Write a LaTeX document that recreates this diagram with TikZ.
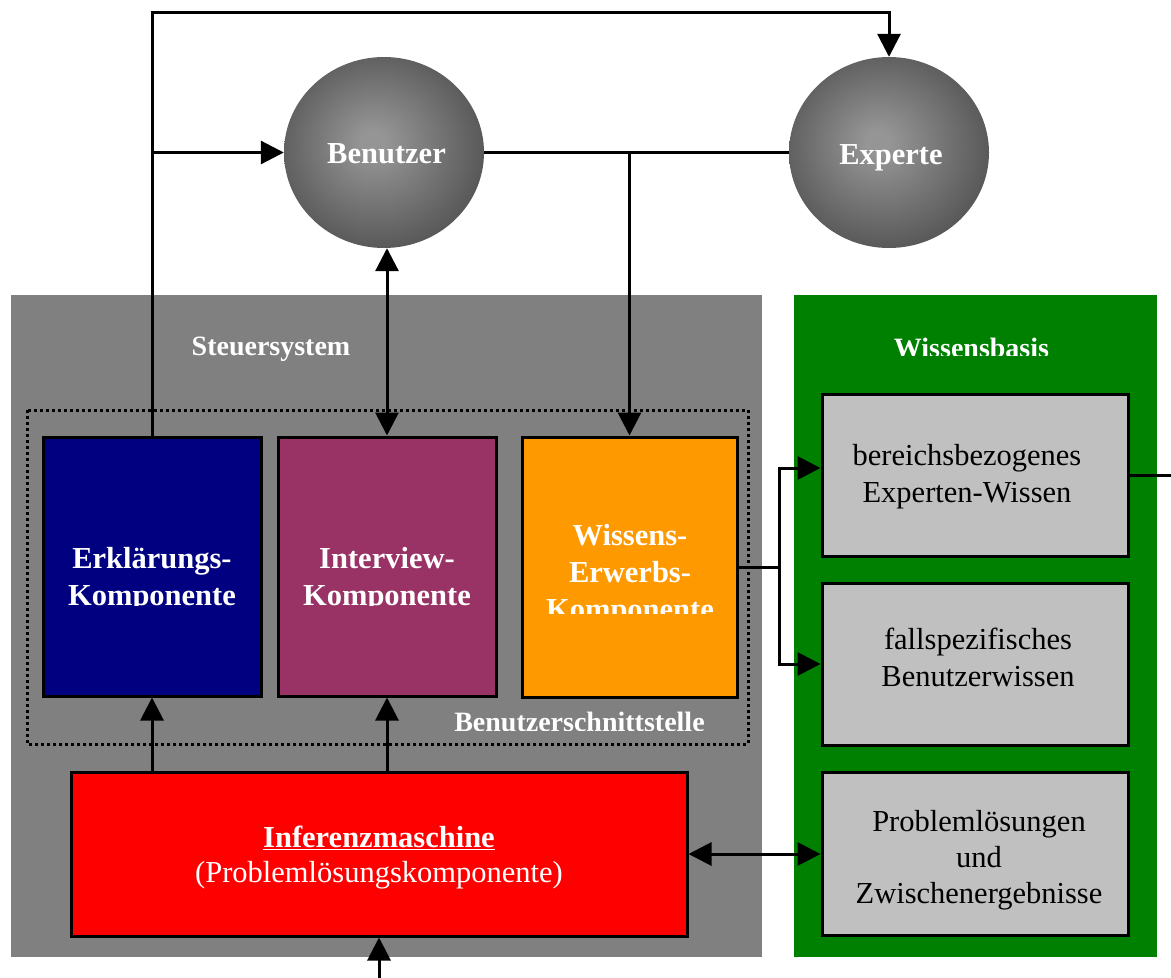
\documentclass[tikz,border=0pt]{standalone}
\usepackage{fontspec}
\setmainfont{Liberation Serif}
\usetikzlibrary{arrows.meta,shapes.geometric,calc}
\definecolor{panelgray}{HTML}{808080}
\definecolor{wbgreen}{HTML}{008000}
\definecolor{kblue}{HTML}{000080}
\definecolor{kpurple}{HTML}{993366}
\definecolor{korange}{HTML}{FF9900}
\definecolor{kred}{HTML}{FF0000}
\definecolor{kgray}{HTML}{C0C0C0}
\definecolor{ballin}{HTML}{959595}
\definecolor{ballout}{HTML}{464646}
\pgfdeclareradialshading{ballshade}{\pgfpoint{-3bp}{3bp}}{color(0bp)=(ballin); color(3bp)=(ballin); color(34bp)=(ballout); color(50bp)=(ballout)}
\tikzset{
  >={Triangle[length=23pt,width=23pt]},
  conn/.style={line width=3pt},
  box/.style={draw=black, line width=3pt, rectangle, inner sep=0pt},
  ball/.style={ellipse, shading=ballshade, minimum width=200pt, minimum height=191pt, inner sep=0pt},
  txt/.style={anchor=base, inner sep=0pt, font=\fontsize{30.5}{36}\selectfont},
  wtxt/.style={txt, text=white, font=\fontsize{30.5}{36}\selectfont\bfseries},
  ptxt/.style={anchor=base, inner sep=0pt, text=white, font=\fontsize{28}{34}\selectfont\bfseries},
}
\begin{document}
\begin{tikzpicture}[x=1pt,y=-1pt]
\useasboundingbox (0,0) rectangle (1171,978);
% panels
\fill[panelgray] (11,295) rectangle (762,957);
\fill[wbgreen] (794,295) rectangle (1157,957);
\draw[line width=3pt, dash pattern=on 3pt off 3pt] (27,410) rectangle (748,744);
% nodes
\node[ball] (benutzer) at (384,152.5) {};
\node[ball] (experte) at (889,152.5) {};
\node[box, fill=kblue, minimum width=218pt, minimum height=259pt] (blue) at (152,566.5) {};
\node[box, fill=kpurple, minimum width=218pt, minimum height=259pt] (purple) at (387,566.5) {};
\node[box, fill=korange, minimum width=215pt, minimum height=260pt] (orange) at (629.5,567) {};
\node[box, fill=kred, minimum width=616pt, minimum height=164pt] (red) at (379,854) {};
\node[box, fill=kgray, minimum width=306pt, minimum height=162pt] (box1) at (975,475) {};
\node[box, fill=kgray, minimum width=306pt, minimum height=162pt] (box2) at (975,664) {};
\node[box, fill=kgray, minimum width=306pt, minimum height=163pt] (box3) at (975,853.5) {};
\coordinate (topline) at (0,12);
\coordinate (rightend) at (1171,475);
\coordinate (bottomin) at (379,978);
% connectors
\draw[conn,->] (blue.north) -- (blue.north |- topline) -| (experte.north);
\draw[conn,->] (blue.north |- benutzer.west) -- (benutzer.west);
\draw[conn,<->] (purple.north |- benutzer.south) -- (purple.north);
\draw[conn] (benutzer.east) -- (experte.west);
\draw[conn,->] (orange.north |- benutzer.east) -- (orange.north);
\draw[conn] (orange.east) -- ++(41,0) coordinate (split);
\draw[conn,->] (split) |- ([yshift=7pt]box1.west);
\draw[conn,->] (split) |- (box2.west);
\draw[conn] (box1.east) -- (rightend);
\draw[conn,<->] (red.east) -- (red.east -| box3.west);
\draw[conn,->] (red.north -| blue.south) -- (blue.south);
\draw[conn,->] (red.north -| purple.south) -- (purple.south);
\draw[conn,->] (bottomin) -- (red.south);
% labels
\node[wtxt] (tbenutzer) at (386.5,163) {Benutzer};
\node[wtxt] (texperte) at (891,164) {Experte};
\node[ptxt] (tsteuer) at (271,355) {Steuersystem};
\begin{scope}
\clip (794,295) rectangle (1157,355);
\node[ptxt] (twissen) at (971.5,357.5) {Wissensbasis};
\end{scope}
\begin{scope}
\clip (400,690) rectangle (740,730);
\node[ptxt] (tschnitt) at (579.5,731.5) {Benutzerschnittstelle};
\end{scope}
\node[wtxt] (tblue1) at (152,568) {Erklärungs-};
\node[wtxt] (tpurple1) at (387,568) {Interview-};
\begin{scope}
\clip (45,580) rectangle (495,605.5);
\node[wtxt] (tblue2) at (152,605) {Komponente};
\node[wtxt] (tpurple2) at (387,605) {Komponente};
\end{scope}
\node[wtxt] (torange1) at (630,545) {Wissens-};
\node[wtxt] (torange2) at (630,582) {Erwerbs-};
\begin{scope}
\clip (523,590) rectangle (736,613);
\node[wtxt] (torange3) at (630,619) {Komponente};
\end{scope}
\node[wtxt] (tred1) at (379,847) {\underline{Inferenzmaschine}};
\node[txt, text=white] (tred2) at (379,882) {(Problemlösungskomponente)};
\node[txt] (tb1a) at (967,465) {bereichsbezogenes};
\node[txt] (tb1b) at (967,502) {Experten-Wissen};
\node[txt] (tb2a) at (978,649) {fallspezifisches};
\node[txt] (tb2b) at (978,686) {Benutzerwissen};
\node[txt] (tb3a) at (979,831) {Problemlösungen};
\node[txt] (tb3b) at (979,867) {und};
\node[txt] (tb3c) at (979,903) {Zwischenergebnisse};
\end{tikzpicture}
\end{document}
